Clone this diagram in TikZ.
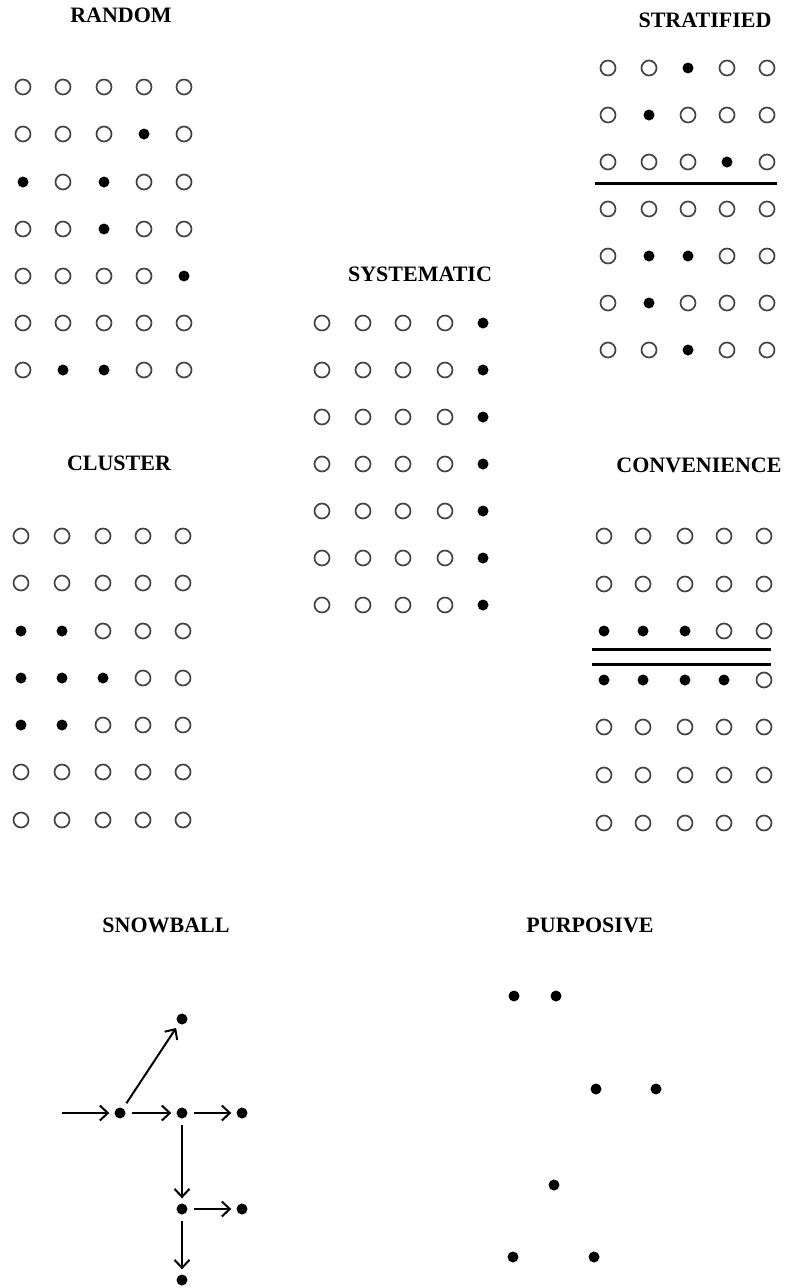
\documentclass[tikz,border=0pt]{standalone}
\usepackage{fontspec}
\setmainfont{Liberation Serif}
\usetikzlibrary{arrows.meta}
\definecolor{ringgray}{HTML}{444444}
\tikzset{
  ring/.style={circle, draw=ringgray, line width=1.7pt, minimum size=15pt, inner sep=0pt},
  spot/.style={circle, fill=black, minimum size=11pt, inner sep=0pt},
  ttl/.style={font=\bfseries\fontsize{22}{24}\selectfont, inner sep=0pt},
  bar/.style={line width=3pt},
  arr/.style={line width=2pt, -{Straight Barb[length=8pt,width=15pt,line width=2pt]}, shorten >=5pt, shorten <=6pt}
}
% one row of a 5-column grid: #1 prefix, #2 row, #3 y, #4..#8 styles
\newcommand\grow[8]{%
  \node[#4] (#1-#2-1) at (\xa,#3) {};
  \node[#5] (#1-#2-2) at (\xb,#3) {};
  \node[#6] (#1-#2-3) at (\xc,#3) {};
  \node[#7] (#1-#2-4) at (\xd,#3) {};
  \node[#8] (#1-#2-5) at (\xe,#3) {};}
\begin{document}
\begin{tikzpicture}[x=1pt,y=-1pt]
\useasboundingbox (0,0) rectangle (791,1288);

% ---------- RANDOM ----------
\node[ttl] (tRandom) at (121,15) {RANDOM};
\def\xa{23}\def\xb{63}\def\xc{104}\def\xd{144}\def\xe{184}
\grow{R}{1}{87}{ring}{ring}{ring}{ring}{ring}
\grow{R}{2}{134}{ring}{ring}{ring}{spot}{ring}
\grow{R}{3}{182}{spot}{ring}{spot}{ring}{ring}
\grow{R}{4}{229}{ring}{ring}{spot}{ring}{ring}
\grow{R}{5}{276}{ring}{ring}{ring}{ring}{spot}
\grow{R}{6}{323}{ring}{ring}{ring}{ring}{ring}
\grow{R}{7}{370}{ring}{spot}{spot}{ring}{ring}

% ---------- STRATIFIED ----------
\node[ttl] (tStrat) at (705,20) {STRATIFIED};
\def\xa{608}\def\xb{649}\def\xc{688}\def\xd{727}\def\xe{767}
\grow{S}{1}{68}{ring}{ring}{spot}{ring}{ring}
\grow{S}{2}{115}{ring}{spot}{ring}{ring}{ring}
\grow{S}{3}{162}{ring}{ring}{ring}{spot}{ring}
\grow{S}{4}{209}{ring}{ring}{ring}{ring}{ring}
\grow{S}{5}{256}{ring}{spot}{spot}{ring}{ring}
\grow{S}{6}{303}{ring}{spot}{ring}{ring}{ring}
\grow{S}{7}{350}{ring}{ring}{spot}{ring}{ring}
\coordinate (sl1) at (595,183);
\coordinate (sl2) at (777,183);
\draw[bar] (sl1) -- (sl2);

% ---------- SYSTEMATIC ----------
\node[ttl] (tSys) at (420,274) {SYSTEMATIC};
\def\xa{322}\def\xb{363}\def\xc{403}\def\xd{445}\def\xe{483}
\grow{Y}{1}{323}{ring}{ring}{ring}{ring}{spot}
\grow{Y}{2}{370}{ring}{ring}{ring}{ring}{spot}
\grow{Y}{3}{417}{ring}{ring}{ring}{ring}{spot}
\grow{Y}{4}{464}{ring}{ring}{ring}{ring}{spot}
\grow{Y}{5}{511}{ring}{ring}{ring}{ring}{spot}
\grow{Y}{6}{558}{ring}{ring}{ring}{ring}{spot}
\grow{Y}{7}{605}{ring}{ring}{ring}{ring}{spot}

% ---------- CLUSTER ----------
\node[ttl] (tClus) at (119,463) {CLUSTER};
\def\xa{21}\def\xb{62}\def\xc{103}\def\xd{143}\def\xe{183}
\grow{C}{1}{536}{ring}{ring}{ring}{ring}{ring}
\grow{C}{2}{583}{ring}{ring}{ring}{ring}{ring}
\grow{C}{3}{631}{spot}{spot}{ring}{ring}{ring}
\grow{C}{4}{678}{spot}{spot}{spot}{ring}{ring}
\grow{C}{5}{725}{spot}{spot}{ring}{ring}{ring}
\grow{C}{6}{772}{ring}{ring}{ring}{ring}{ring}
\grow{C}{7}{820}{ring}{ring}{ring}{ring}{ring}

% ---------- CONVENIENCE ----------
\node[ttl] (tConv) at (699,465) {CONVENIENCE};
\def\xa{604}\def\xb{643}\def\xc{685}\def\xd{724}\def\xe{764}
\grow{V}{1}{536}{ring}{ring}{ring}{ring}{ring}
\grow{V}{2}{584}{ring}{ring}{ring}{ring}{ring}
\grow{V}{3}{631}{spot}{spot}{spot}{ring}{ring}
\grow{V}{4}{680}{spot}{spot}{spot}{spot}{ring}
\grow{V}{5}{727}{ring}{ring}{ring}{ring}{ring}
\grow{V}{6}{775}{ring}{ring}{ring}{ring}{ring}
\grow{V}{7}{823}{ring}{ring}{ring}{ring}{ring}
\coordinate (vl1) at (592,649);
\coordinate (vl2) at (771,649);
\coordinate (vl3) at (592,664);
\coordinate (vl4) at (771,664);
\draw[bar] (vl1) -- (vl2);
\draw[bar] (vl3) -- (vl4);

% ---------- SNOWBALL ----------
\node[ttl] (tSnow) at (166,925) {SNOWBALL};
\node[spot] (sD) at (182,1019) {};
\node[spot] (sA) at (120,1113) {};
\node[spot] (sB) at (182,1113) {};
\node[spot] (sC) at (242,1113) {};
\node[spot] (sE) at (182,1209) {};
\node[spot] (sF) at (242,1209) {};
\node[spot] (sG) at (182,1280) {};
\coordinate (sIn) at (62,1113);
\draw[arr, shorten <=0pt] (sIn) -- (sA);
\draw[arr] (sA) -- (sD);
\draw[arr] (sA) -- (sB);
\draw[arr] (sB) -- (sC);
\draw[arr] (sB) -- (sE);
\draw[arr] (sE) -- (sF);
\draw[arr] (sE) -- (sG);

% ---------- PURPOSIVE ----------
\node[ttl] (tPurp) at (590,925) {PURPOSIVE};
\node[spot] (p1) at (514,996) {};
\node[spot] (p2) at (556,996) {};
\node[spot] (p3) at (596,1089) {};
\node[spot] (p4) at (656,1089) {};
\node[spot] (p5) at (554,1185) {};
\node[spot] (p6) at (513,1257) {};
\node[spot] (p7) at (594,1257) {};
\end{tikzpicture}
\end{document}
